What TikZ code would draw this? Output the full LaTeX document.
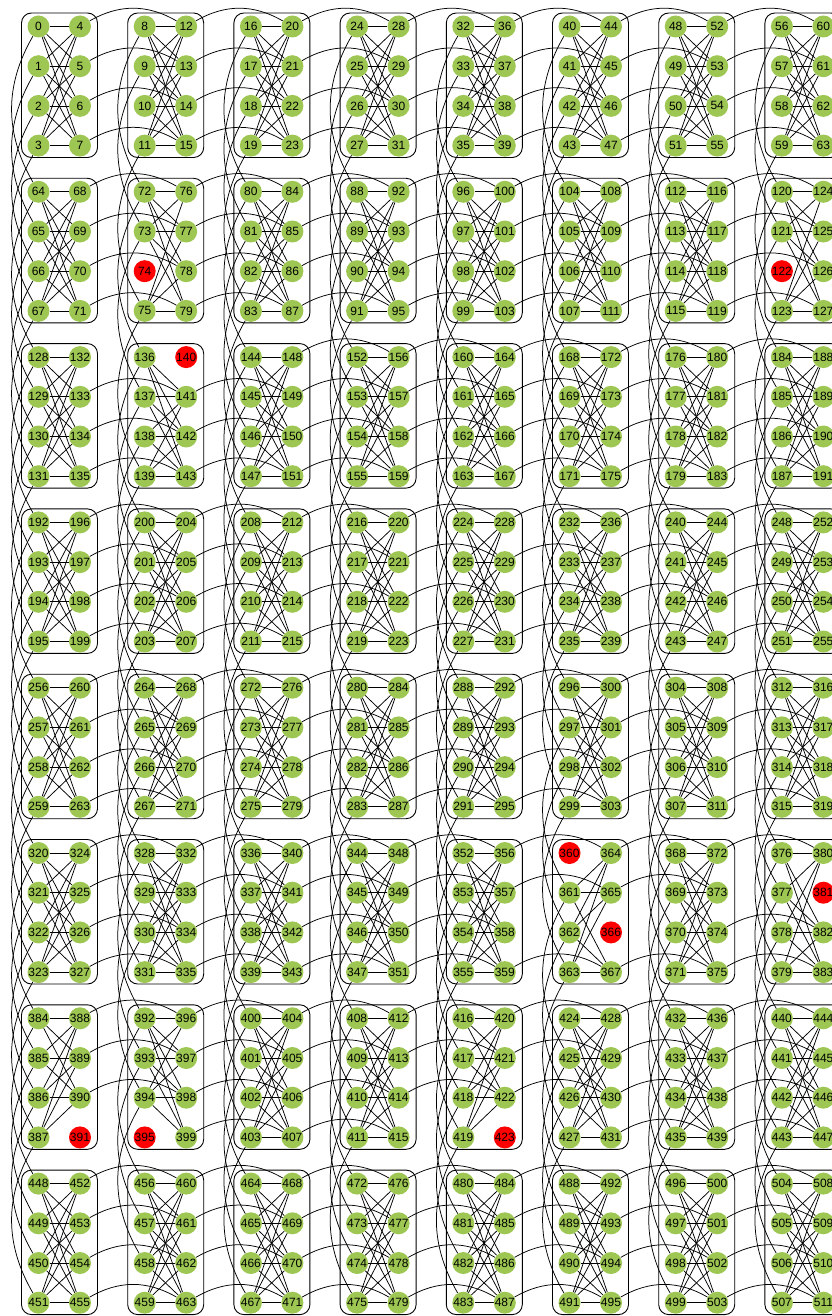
\documentclass[tikz,border=0pt]{standalone}
\usepackage{fontspec}
\setmainfont{Liberation Sans}
\usetikzlibrary{backgrounds}

\definecolor{qgreen}{RGB}{157,199,82}

% faulty qubits (drawn red, no couplers)
\newcommand\markfaulty[1]{\expandafter\gdef\csname bad#1\endcsname{}}
\markfaulty{74}\markfaulty{122}\markfaulty{140}\markfaulty{360}\markfaulty{366}
\markfaulty{381}\markfaulty{391}\markfaulty{395}\markfaulty{423}

\begin{document}
\begin{tikzpicture}[x=1pt, y=-1pt,
  qubit/.style={circle, fill=qgreen, minimum size=22pt, inner sep=0pt,
                font=\fontsize{12}{12}\selectfont},
  faulty/.style={qubit, fill=red},
  cell/.style={draw, line width=0.9pt, rounded corners=10pt},
  coupler/.style={line width=0.75pt}
]
  \useasboundingbox (0,0) rectangle (831,1316);

  % unit cells and qubits
  \foreach \r in {0,...,7} {
    \foreach \c in {0,...,7} {
      \pgfmathsetmacro\cx{38.5+106.2*\c}
      \pgfmathsetmacro\cy{26.5+165.3*\r}
      \draw[cell] (\cx-17,\cy-13.5) rectangle (\cx+59,\cy+131);
      \foreach \k in {0,...,7} {
        \pgfmathtruncatemacro\q{64*\r+8*\c+\k}
        \pgfmathsetmacro\qx{\cx+41.5*int(\k/4)}
        \pgfmathsetmacro\qy{\cy+39.7*mod(\k,4)}
        \ifcsname bad\q\endcsname
          \node[faulty] (n\q) at (\qx,\qy) {\q};
        \else
          \node[qubit] (n\q) at (\qx,\qy) {\q};
        \fi
      }
    }
  }

  % couplers
  \begin{pgfonlayer}{background}
  \foreach \r in {0,...,7} {
    \foreach \c in {0,...,7} {
      \pgfmathtruncatemacro\b{64*\r+8*\c}
      % inside the cell
      \foreach \i in {0,...,3} {
        \foreach \j in {4,...,7} {
          \pgfmathtruncatemacro\u{\b+\i}
          \pgfmathtruncatemacro\v{\b+\j}
          \ifcsname bad\u\endcsname\else\ifcsname bad\v\endcsname\else
            \draw[coupler] (n\u) -- (n\v);
          \fi\fi
        }
      }
      % to the cell on the right
      \ifnum\c<7
        \foreach \j in {4,...,7} {
          \pgfmathtruncatemacro\u{\b+\j}
          \pgfmathtruncatemacro\v{\b+8+\j}
          \ifcsname bad\u\endcsname\else\ifcsname bad\v\endcsname\else
            \draw[coupler] (n\u) to[bend left=30] (n\v);
          \fi\fi
        }
      \fi
      % to the cell below
      \ifnum\r<7
        \foreach \i in {0,...,3} {
          \pgfmathtruncatemacro\u{\b+\i}
          \pgfmathtruncatemacro\v{\b+64+\i}
          \ifcsname bad\u\endcsname\else\ifcsname bad\v\endcsname\else
            \draw[coupler] (n\u) to[bend right=30] (n\v);
          \fi\fi
        }
      \fi
    }
  }
  \end{pgfonlayer}
\end{tikzpicture}
\end{document}
